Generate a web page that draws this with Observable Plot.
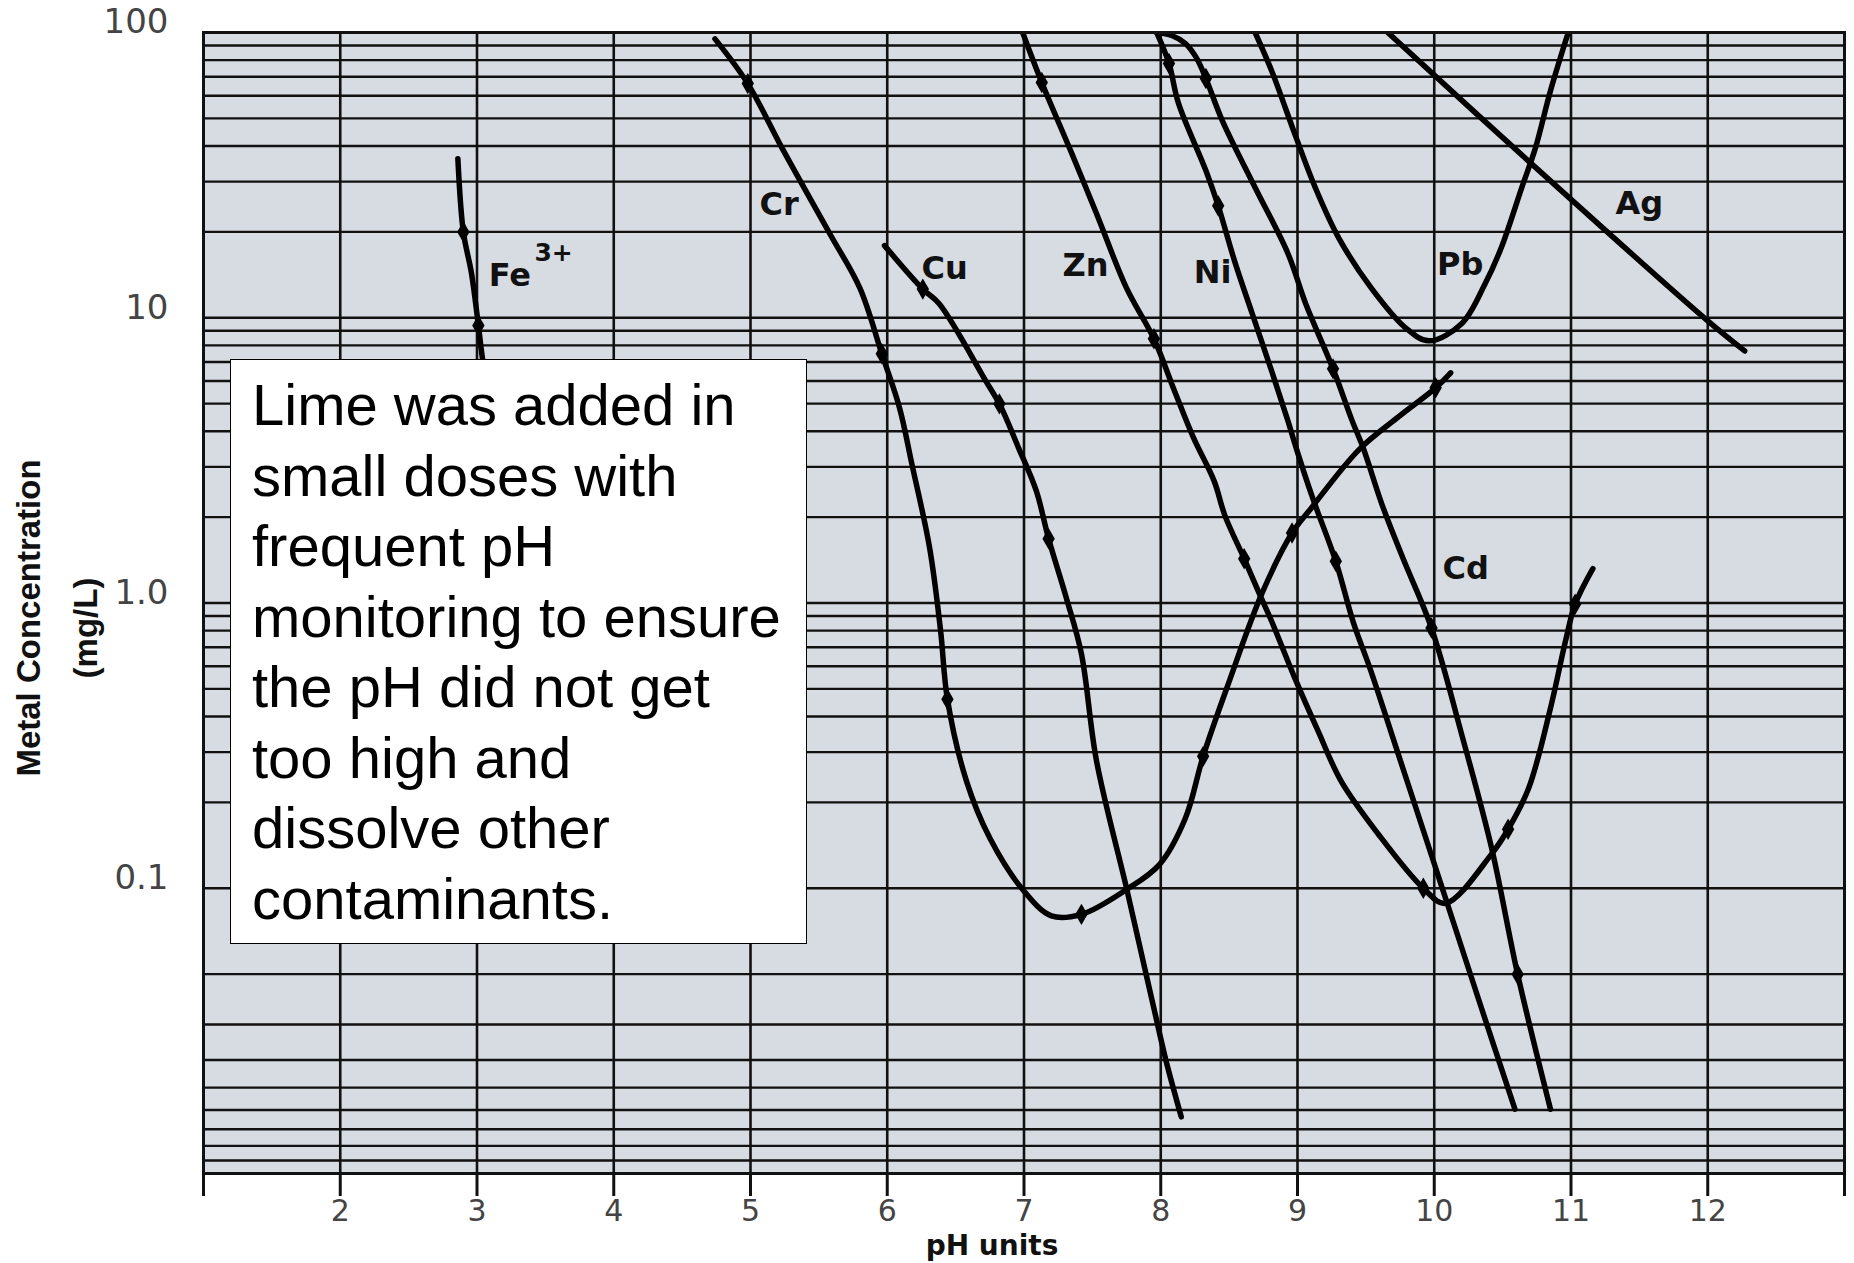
<!DOCTYPE html>
<html>
<head>
<meta charset="utf-8">
<script src="https://cdn.jsdelivr.net/npm/d3@7"></script>
<script src="https://cdn.jsdelivr.net/npm/@observablehq/plot@0.6"></script>
<style>
  html, body { margin: 0; padding: 0; background: #ffffff; }
  #wrap { position: relative; width: 1854px; height: 1263px; overflow: hidden; }
  #chart svg { display: block; }
  #note {
    position: absolute; left: 230px; top: 359px; width: 577px; height: 585px;
    box-sizing: border-box; border: 1.6px solid #000; background: #ffffff;
    font-family: "Liberation Sans", Arial, sans-serif; font-size: 58px; line-height: 70.5px;
    padding: 10px 0 0 21px; color: #000; white-space: nowrap;
  }
</style>
</head>
<body>
<div id="wrap">
  <div id="chart"></div>
  <div id="note">Lime was added in<br>small doses with<br>frequent pH<br>monitoring to ensure<br>the pH did not get<br>too high and<br>dissolve other<br>contaminants.</div>
</div>
<script>
// ---- Data: [pH, metal concentration mg/L, marker(1)] ----
const fe = [[2.86, 36.1], [2.90, 20.0, 1], [2.96, 14.3], [3.01, 9.4, 1], [3.04, 7.2], [3.07, 6.0]];
const cr = [[4.74, 95], [4.98, 66.2, 1], [5.23, 39.4], [5.58, 19.7], [5.80, 12.7], [5.96, 7.48, 1],
            [6.09, 4.83], [6.18, 3.07], [6.31, 1.56], [6.39, 0.80], [6.44, 0.46, 1], [6.58, 0.237],
            [6.75, 0.150], [6.99, 0.099], [7.20, 0.080], [7.42, 0.081, 1], [7.75, 0.099], [7.99, 0.121],
            [8.18, 0.176], [8.31, 0.29, 1], [8.50, 0.53], [8.74, 1.08], [8.96, 1.76, 1], [9.10, 2.15],
            [9.45, 3.45], [9.74, 4.50], [10.01, 5.68, 1], [10.12, 6.41]];
const cu = [[5.98, 17.9], [6.26, 12.6, 1], [6.38, 11.2], [6.72, 6.01], [6.82, 4.99, 1], [6.96, 3.50],
            [7.09, 2.47], [7.18, 1.68, 1], [7.31, 1.04], [7.42, 0.663], [7.53, 0.28], [7.75, 0.100],
            [7.86, 0.0586], [7.96, 0.0361], [8.04, 0.0247], [8.15, 0.0158]];
const zn = [[6.99, 100], [7.13, 66.8, 1], [7.35, 37.6], [7.53, 23.2], [7.75, 12.7], [7.95, 8.44, 1],
            [8.10, 5.55], [8.24, 3.79], [8.39, 2.68], [8.47, 2.02], [8.61, 1.43, 1], [8.72, 1.08],
            [8.81, 0.865], [8.99, 0.532], [9.15, 0.356], [9.32, 0.237], [9.59, 0.155], [9.92, 0.100, 1],
            [10.08, 0.0885], [10.42, 0.132], [10.54, 0.161, 1], [10.69, 0.224], [10.85, 0.428],
            [10.96, 0.736], [11.03, 0.99, 1], [11.16, 1.32]];
const ni = [[7.97, 100], [8.06, 77.9, 1], [8.13, 56.4], [8.33, 32.8], [8.42, 24.7, 1], [8.54, 15.8],
            [8.67, 10.3], [8.81, 6.52], [8.93, 4.35], [8.99, 3.50], [9.11, 2.34], [9.28, 1.40, 1],
            [9.41, 0.85], [9.53, 0.59], [9.77, 0.264], [10.05, 0.103], [10.33, 0.040], [10.59, 0.0168]];
const cd = [[7.97, 100], [8.08, 97.6], [8.18, 91.5], [8.26, 81.6], [8.33, 69.0, 1], [8.45, 49.1],
            [8.69, 28.6], [8.93, 16.8], [9.06, 11.2], [9.26, 6.62, 1], [9.40, 4.35], [9.48, 3.50],
            [9.62, 2.2], [9.77, 1.44], [9.98, 0.817, 1], [10.20, 0.347], [10.42, 0.138],
            [10.61, 0.0499, 1], [10.85, 0.0168]];
const pb = [[8.69, 100], [8.81, 73.6], [8.99, 42.8], [9.13, 28.6], [9.30, 19.1], [9.54, 12.7],
            [9.79, 9.22], [9.96, 8.30], [10.20, 9.53], [10.37, 13.1], [10.49, 17.6], [10.64, 28.6],
            [10.74, 39.4], [10.85, 62.5], [10.98, 100]];
const ag = [[9.66, 100], [10.71, 34.7], [12.0, 9.75], [12.27, 7.65]];

const metals = ["Fe", "Cr", "Cu", "Zn", "Ni", "Cd", "Pb", "Ag"];
const seriesList = [fe, cr, cu, zn, ni, cd, pb, ag];

// curve labels
const labelNames = ["Fe", "Cr", "Cu", "Zn", "Ni", "Pb", "Ag", "Cd"];
const labelPH    = [3.24, 5.21, 6.42, 7.45, 8.38, 10.19, 11.50, 10.23];
const labelConc  = [14.0, 24.9, 14.9, 15.2, 14.4, 15.3, 25.1, 1.32];
const supText = ["3+"];
const supPH = [3.56];
const supConc = [16.9];

// axes
const xTicks = [1, 2, 3, 4, 5, 6, 7, 8, 9, 10, 11, 12, 13];
const xTickLabels = ["", "2", "3", "4", "5", "6", "7", "8", "9", "10", "11", "12", ""];
const yTicks = [0.1, 1, 10, 100];
const yTickLabels = ["0.1", "1.0", "10", "100"];
const xGrid = [1, 2, 3, 4, 5, 6, 7, 8, 9, 10, 11, 12, 13];
const yGrid = [100, 90, 80, 70, 60, 50, 40, 30, 20, 10, 9, 8, 7, 6, 5, 4, 3, 2, 1,
               0.9, 0.8, 0.7, 0.6, 0.5, 0.4, 0.3, 0.2, 0.1,
               0.05, 0.0333, 0.025, 0.02, 0.0167, 0.0143, 0.0125, 0.0111, 0.01];

// ---- build tables ----
const rows = [];
seriesList.forEach((pts, k) => pts.forEach(p => rows.push({metal: metals[k], pH: p[0], c: p[1], mark: p[2] === 1})));
const labels = labelNames.map((t, i) => ({t, pH: labelPH[i], c: labelConc[i]}));
const sups = supText.map((t, i) => ({t, pH: supPH[i], c: supConc[i]}));
const xFmt = new Map(xTicks.map((v, i) => [v, xTickLabels[i]]));
const yFmt = new Map(yTicks.map((v, i) => [v, yTickLabels[i]]));

const chart = Plot.plot({
  width: 1854,
  height: 1263,
  marginLeft: 203,
  marginRight: 10,
  marginTop: 32,
  marginBottom: 90,
  x: {domain: [1, 13], label: null},
  y: {type: "log", domain: [0.01, 100], label: null},
  style: {background: "transparent", fontFamily: "DejaVu Sans, sans-serif", color: "#111"},
  marks: [
    Plot.frame({fill: "#d7dce3", stroke: null}),
    Plot.ruleY(yGrid, {stroke: "#111", strokeWidth: 2.4}),
    Plot.ruleX(xGrid, {stroke: "#111", strokeWidth: 2.6}),
    Plot.line(rows, {x: "pH", y: "c", z: "metal", curve: "catmull-rom", stroke: "#000", strokeWidth: 5.5, clip: true}),
    Plot.dot(rows.filter(d => d.mark), {x: "pH", y: "c", symbol: "diamond", r: 6.5, fill: "#000", stroke: null}),
    Plot.text(labels, {x: "pH", y: "c", text: "t", fontSize: 32, fontWeight: "bold", fill: "#111", fontFamily: "DejaVu Sans"}),
    Plot.text(sups, {x: "pH", y: "c", text: "t", fontSize: 25, fontWeight: "bold", fill: "#111", fontFamily: "DejaVu Sans"}),
    Plot.axisX({ticks: xTicks, tickFormat: d => xFmt.get(d), tickSize: 23, tickPadding: 3, fontSize: 30,
                strokeWidth: 3, stroke: "#111", fill: "#444", label: null, fontFamily: "DejaVu Sans"}),
    Plot.axisY({ticks: yTicks, tickFormat: d => yFmt.get(d), tickSize: 0, tickPadding: 35, dy: -10, fontSize: 34,
                fill: "#444", stroke: null, label: null, fontFamily: "DejaVu Sans"}),
    Plot.frame({stroke: "#111", strokeWidth: 3}),
    Plot.text(["Metal Concentration"], {text: d => d, frameAnchor: "left", textAnchor: "middle", lineAnchor: "middle",
                dx: -174, dy: 15, rotate: -90, fontSize: 33, fontWeight: "bold", fill: "#111", fontFamily: "Liberation Sans"}),
    Plot.text(["(mg/L)"], {text: d => d, frameAnchor: "left", textAnchor: "middle", lineAnchor: "middle",
                dx: -117, dy: 25, rotate: -90, fontSize: 33, fontWeight: "bold", fill: "#111", fontFamily: "Liberation Sans"}),
    Plot.text(["pH units"], {text: d => d, frameAnchor: "bottom", textAnchor: "middle", lineAnchor: "middle",
                dx: -32, dy: 73, fontSize: 28, fontWeight: "bold", fill: "#111", fontFamily: "DejaVu Sans"})
  ]
});
document.getElementById("chart").appendChild(chart);
</script>
</body>
</html>
